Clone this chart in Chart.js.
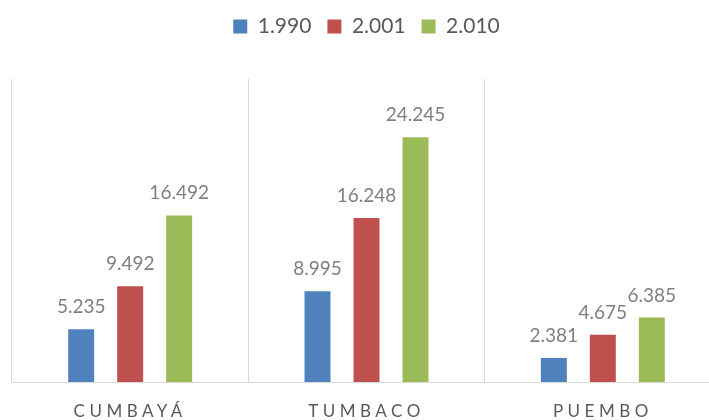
<!DOCTYPE html>
<html lang="es">
<head>
  <meta charset="UTF-8" />
  <title>Población por parroquia</title>
  <script src="https://cdn.jsdelivr.net/npm/chart.js"></script>
  <style>
    html, body {
      margin: 0;
      padding: 0;
      background: #ffffff;
      overflow: hidden;
    }
    #wrap {
      width: 739px;
      height: 420px;
    }
  </style>
</head>
<body>
  <div id="wrap">
    <canvas id="chart" width="739" height="420"></canvas>
  </div>
  <script>
    const categorias = ["CUMBAYÁ", "TUMBACO", "PUEMBO"];
    const anios = ["1.990", "2.001", "2.010"];
    const censo1990 = [5235, 8995, 2381];
    const censo2001 = [9492, 16248, 4675];
    const censo2010 = [16492, 24245, 6385];
    const colores = ["#4F81BD", "#C0504D", "#9BBB59"];

    Chart.defaults.font.family = "Lato, 'Open Sans', sans-serif";

    function formato(n) {
      return String(n).replace(/\B(?=(\d{3})+(?!\d))/g, ".");
    }

    // extra space under the legend, like the Excel original
    const legendGap = {
      id: "legendGap",
      beforeInit(chart) {
        if (!chart.legend) return;
        const fit = chart.legend.fit;
        chart.legend.fit = function () {
          fit.call(this);
          this.height += 32;
        };
      }
    };

    // value labels above each bar
    const etiquetas = {
      id: "etiquetas",
      afterDatasetsDraw(chart) {
        const ctx = chart.ctx;
        ctx.save();
        ctx.font = "19px Lato, 'Open Sans', sans-serif";
        ctx.fillStyle = "#7F7F7F";
        ctx.textAlign = "center";
        ctx.textBaseline = "alphabetic";
        chart.data.datasets.forEach((ds, i) => {
          chart.getDatasetMeta(i).data.forEach((bar, j) => {
            ctx.fillText(formato(ds.data[j]), bar.x, bar.y - 16);
          });
        });
        ctx.restore();
      }
    };

    const series = [censo1990, censo2001, censo2010];

    new Chart(document.getElementById("chart"), {
      type: "bar",
      data: {
        labels: categorias,
        datasets: series.map((d, i) => ({
          label: anios[i],
          data: d,
          backgroundColor: colores[i],
          categoryPercentage: 0.622,
          barPercentage: 0.53
        }))
      },
      options: {
        responsive: false,
        animation: false,
        layout: { padding: { top: 0, left: 12, right: 18, bottom: 0 } },
        plugins: {
          legend: {
            position: "top",
            labels: {
              boxWidth: 14,
              boxHeight: 14,
              padding: 16,
              color: "#595959",
              font: { size: 21 }
            }
          },
          tooltip: { enabled: false }
        },
        scales: {
          x: {
            offset: true,
            grid: {
              offset: true,
              color: "#D9D9D9",
              lineWidth: 1,
              drawTicks: false
            },
            border: { display: true, color: "#D9D9D9", width: 1 },
            ticks: {
              color: "#595959",
              padding: 19,
              font: { size: 17 }
            },
            afterFit(scale) {
              scale.height = 38;
              if (scale._espaciado) return;
              const draw = scale.drawLabels;
              scale.drawLabels = function (area) {
                const c = this.ctx;
                c.save();
                c.letterSpacing = "4.5px";
                draw.call(this, area);
                c.restore();
              };
              scale._espaciado = true;
            }
          },
          y: {
            display: false,
            min: 0,
            max: 30000
          }
        }
      },
      plugins: [legendGap, etiquetas]
    });
  </script>
</body>
</html>
